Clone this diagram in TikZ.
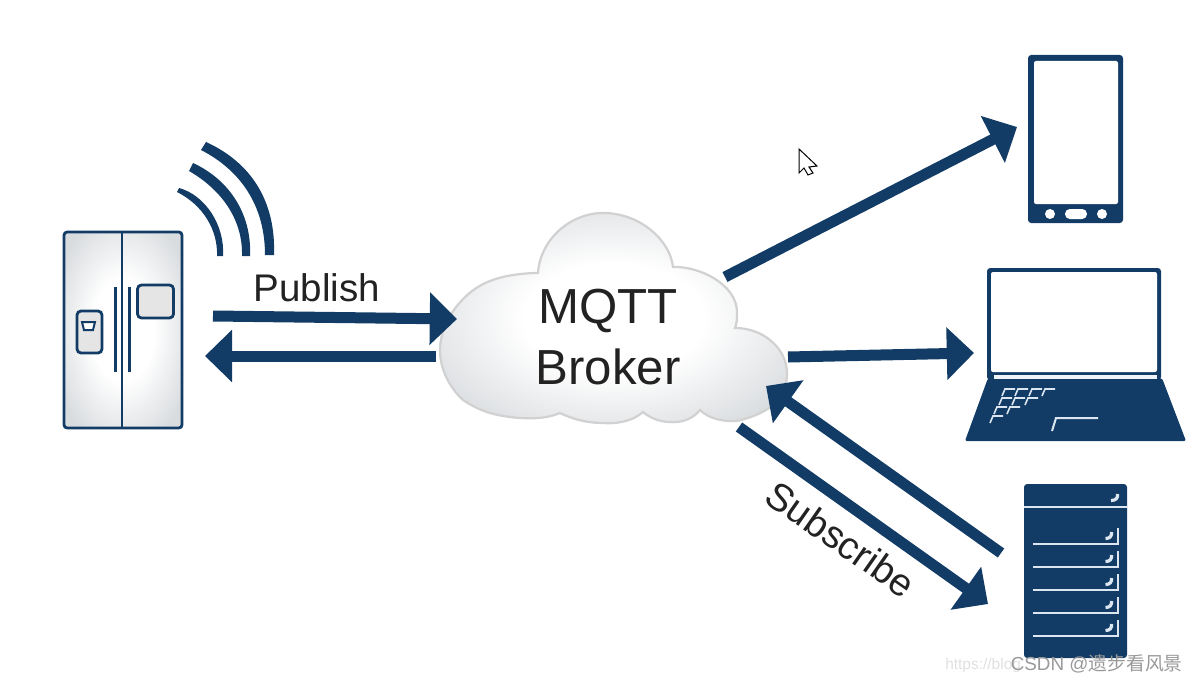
\documentclass[tikz,border=0pt]{standalone}
\usepackage{fontspec}
\setmainfont{Liberation Sans}
\newfontfamily\cjkfont{Noto Sans CJK SC}
\usetikzlibrary{arrows.meta}
\definecolor{navy}{HTML}{123C66}
\definecolor{ink}{HTML}{222222}
\definecolor{keyline}{HTML}{DCE6F0}
\definecolor{glowedge}{HTML}{D9DCDF}
\pgfdeclareradialshading{softglow}{\pgfpoint{0bp}{0bp}}{color(0bp)=(white); color(13bp)=(white); color(31bp)=(glowedge); color(72bp)=(glowedge)}
\tikzset{
  flow/.style={draw=navy, line width=0.275cm, -{Triangle[length=0.68cm,width=1.28cm]}},
  label/.style={text=ink, inner sep=0pt, font=\fontsize{27.4}{30}\selectfont},
  broker/.style={text=ink, inner sep=0pt, align=center, font=\fontsize{35}{44}\selectfont},
  wire/.style={draw=navy, line width=0.07cm},
  key/.style={draw=keyline, line width=0.04cm},
  rack/.style={draw=keyline, line width=0.07cm},
}

\begin{document}
\begin{tikzpicture}[x=0.025cm,y=-0.025cm]
  \useasboundingbox (0,0) rectangle (1198,683);

  % arrow ends
  \coordinate (pubstart) at (213,316);
  \coordinate (pubend) at (457,319);
  \coordinate (backstart) at (436,356);
  \coordinate (backend) at (205,356);
  \coordinate (phonestart) at (725,277);
  \coordinate (phoneend) at (1017,127);
  \coordinate (laptopstart) at (788,357);
  \coordinate (laptopend) at (974,353);
  \coordinate (serverstart) at (1001,553);
  \coordinate (serverend) at (766,386);
  \coordinate (substart) at (739,427);
  \coordinate (subend) at (988,604);

  % fridge
  \shade[shading=softglow, draw=navy, line width=0.07cm, rounded corners=0.08cm]
    (64,232) rectangle (182,428);
  \draw[wire] (122,232) -- (122,428);
  \draw[wire, line width=0.08cm] (115.5,287) -- (115.5,372);
  \draw[wire, line width=0.08cm] (129.5,287) -- (129.5,372);
  \draw[wire, fill=black!10, rounded corners=0.1cm] (137.5,285) rectangle (173.5,318);
  \draw[wire, fill=black!10, rounded corners=0.1cm] (77,311) rectangle (102,353);
  \draw[wire, line width=0.05cm, fill=white] (82,322) -- (95,322) -- (93,330) -- (84,330) -- cycle;

  % signal
  \fill[navy] (206,142) .. controls (250,162) and (276,200) .. (274,255) -- (265,255)
    .. controls (265,205) and (240,170) .. (201,150) -- cycle;
  \fill[navy] (193,163) .. controls (230,180) and (252,215) .. (250,256) -- (242,256)
    .. controls (243,220) and (222,190) .. (189,171) -- cycle;
  \fill[navy] (179,188) .. controls (205,195) and (225,225) .. (223,256) -- (217,256)
    .. controls (218,230) and (203,205) .. (177,192) -- cycle;

  % cloud
  \shade[shading=softglow, draw=black!18, line width=0.055cm]
    (440,350) .. controls (440,320) and (465,290) .. (490,281)
    .. controls (505,275) and (525,273) .. (538,273)
    .. controls (540,240) and (570,213) .. (603,213)
    .. controls (640,213) and (670,240) .. (673,267)
    .. controls (700,266) and (737,285) .. (737,312)
    .. controls (737,318) and (737,323) .. (735,328)
    .. controls (765,328) and (787,350) .. (787,373)
    .. controls (787,395) and (775,412) .. (737,421)
    .. controls (722,422) and (708,418) .. (700,410)
    .. controls (692,420) and (680,423) .. (670,422)
    .. controls (660,422) and (650,418) .. (643,412)
    .. controls (632,422) and (615,424) .. (603,423)
    .. controls (585,423) and (570,418) .. (560,413)
    .. controls (548,418) and (535,419) .. (520,418)
    .. controls (490,416) and (475,408) .. (463,400)
    .. controls (450,388) and (440,370) .. (440,350) -- cycle;
  \node[broker] (mqtt) at (608,337) {MQTT\\Broker};

  % phone
  \fill[navy, rounded corners=0.08cm] (1028,55) rectangle (1123,223);
  \fill[white, rounded corners=0.05cm] (1034,61) rectangle (1118,204);
  \fill[white] (1050,214) circle (5);
  \fill[white] (1102,214) circle (5);
  \fill[white, rounded corners=0.12cm] (1065,209) rectangle (1087,219);

  % laptop
  \fill[navy, rounded corners=0.05cm] (988,378) -- (1162,378) -- (1186,441) -- (965,441) -- cycle;
  \fill[navy, rounded corners=0.08cm] (987,268) rectangle (1161,380);
  \fill[white, rounded corners=0.05cm] (991,272) rectangle (1157,372);
  \fill[keyline!50!white] (994,375) rectangle (1157,379);
  \foreach \x/\y in {1005/389,1018/389,1032/389,1045/389,1002/398,1015/398,1028/398,997/407,1010/407,993/416}
    \draw[key] (\x-3,\y+7) -- (\x,\y) -- (\x+10,\y);
  \draw[key, line width=0.05cm] (1052,431) -- (1056,418) -- (1098,418);

  % server
  \fill[navy, rounded corners=0.08cm] (1024,484) rectangle (1127,658);
  \draw[rack] (1024,507) -- (1127,507);
  \draw[key, line width=0.08cm] (1111,500.5) .. controls (1116,500.5) and (1118,498) .. (1117.5,494);
  \foreach \y in {544,567,590,613,636} {
    \draw[rack] (1033,\y) -- (1118,\y) -- (1118,\y-16);
    \draw[key, line width=0.08cm] (1105.5,\y-5.5) .. controls (1110,\y-5.5) and (1112,\y-8) .. (1111.5,\y-12);
  }

  % arrows
  \draw[flow] (pubstart) -- (pubend);
  \draw[flow] (backstart) -- (backend);
  \draw[flow] (phonestart) -- (phoneend);
  \draw[flow] (laptopstart) -- (laptopend);
  \draw[flow] (serverstart) -- (serverend);
  \draw[flow] (substart) -- (subend);

  \node[label] (publish) at (317,288) {Publish};
  \node[label, rotate=-35] (subscribe) at (841,539) {Subscribe};

  % pointer
  \draw[black, fill=white, line width=0.025cm] (799,149) -- (799,173) -- (804,168) -- (808,175)
    -- (813,173) -- (809,167) -- (817,166) -- cycle;

  % watermark
  \node[text=black!12, inner sep=0pt, anchor=west, font=\fontsize{11}{13}\selectfont] (blog) at (945,665) {https://blog};
  \node[text=black!40, inner sep=0pt, anchor=east, font=\fontsize{13.4}{16}\selectfont] (csdn) at (1183,664) {CSDN @{\cjkfont 遗步看风景}};
\end{tikzpicture}
\end{document}
